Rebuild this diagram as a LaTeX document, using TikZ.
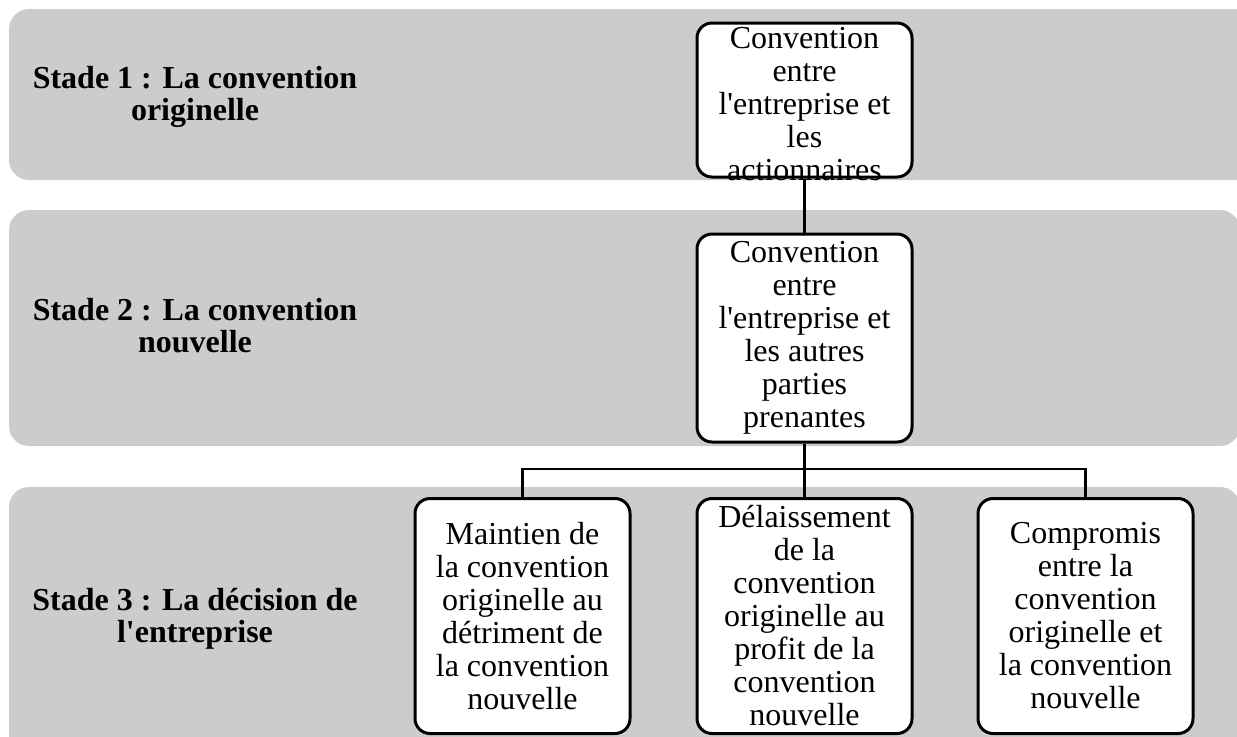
\documentclass[tikz,border=0pt]{standalone}
\usepackage{fontspec}
\setmainfont{Liberation Serif}[Ligatures=TeXOff]
\usetikzlibrary{positioning}
\definecolor{bandgray}{RGB}{204,204,204}

\begin{document}
\begin{tikzpicture}[x=0.5pt, y=-0.5pt,
  band/.style={fill=bandgray, rounded corners=10pt},
  stage/.style={font=\fontsize{16}{16}\selectfont\bfseries, align=center},
  card/.style={draw, line width=1.5pt, fill=white, rounded corners=7.5pt,
    minimum width=107.5pt, minimum height=117.5pt, inner sep=0pt},
  cardtext/.style={align=center, inner sep=0pt, font=\fontsize{16}{16.5}\selectfont},
  link/.style={line width=1.4pt}]
\useasboundingbox (0,0) rectangle (1237,736);

% the three stages
\fill[band] (9,9) rectangle (1262,180);
\fill[band] (9,210) rectangle (1240,446);
\fill[band] (9,487) rectangle (1240,760);

\node[stage] (s1) at (195,97) {Stade 1 : La convention\\originelle};
\node[stage] (s2) at (195,326) {Stade 2 : La convention\\nouvelle};
\node[stage] (s3) at (195,619) {Stade 3 : La décision de\\l'entreprise};

% boxes
\node[card, minimum height=77pt] (c1) at (804.5,100) {};
\node[cardtext] (t1) at (804.5,104) {Convention\\entre\\l'entreprise et\\les\\actionnaires};
\node[card, cardtext, minimum height=104pt] (c2) at (804.5,338)
  {Convention\\entre\\l'entreprise et\\les autres\\parties\\prenantes};

\node[card, cardtext] (m2) at (804.5,616)
  {Délaissement\\de la\\convention\\originelle au\\profit de la\\convention\\nouvelle};
\node[card, cardtext, left=32pt of m2] (m1)
  {Maintien de\\la convention\\originelle au\\détriment de\\la convention\\nouvelle};
\node[card, cardtext, right=31.5pt of m2] (m3)
  {Compromis\\entre la\\convention\\originelle et\\la convention\\nouvelle};

% connectors
\coordinate (bus) at (804.5,469);
\draw[link] (c1) -- (c2);
\draw[link] (c2.south) -- (bus);
\draw[link] (m1.north) |- (bus) -| (m3.north);
\draw[link] (bus) -- (m2.north);
\end{tikzpicture}
\end{document}
